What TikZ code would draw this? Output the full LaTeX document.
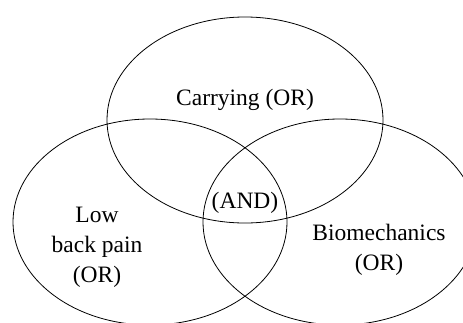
\documentclass[tikz,border=0pt]{standalone}
\usepackage{fontspec}
\setmainfont{Liberation Serif}
\usepackage{tikz}
\usetikzlibrary{positioning}

\tikzset{
    setring/.style={line width=0.8pt},
    setlabel/.style={font=\fontsize{23.5}{30}\selectfont, align=center, inner sep=0pt}
}

\begin{document}
\begin{tikzpicture}[x=1pt, y=-1pt]
    \useasboundingbox (0,0) rectangle (463,322);
    \clip (0,0) rectangle (463,322);

    \draw [setring] (245,120) ellipse [x radius=138pt, y radius=103pt];
    \draw [setring] (150,222) ellipse [x radius=137pt, y radius=103pt];
    \draw [setring] (340,222) ellipse [x radius=137pt, y radius=103pt];

    \node [setlabel] (carry) at (245,100) {Carrying (OR)};
    \node [setlabel] (and) at (245,203) {(AND)};
    \node [setlabel] (pain) at (97,247) {Low\\back pain\\(OR)};
    \node [setlabel] (biomech) at (379,250) {Biomechanics\\(OR)};
\end{tikzpicture}
\end{document}
